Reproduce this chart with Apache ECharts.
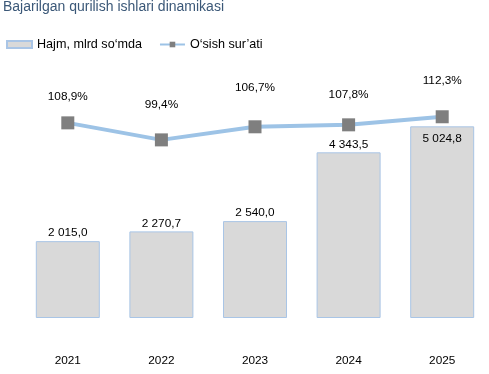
<!DOCTYPE html>
<html><head><meta charset="utf-8">
<script src="https://cdn.jsdelivr.net/npm/echarts@6/dist/echarts.min.js"></script>
<style>html,body{margin:0;padding:0;background:#fff}#c{width:489px;height:374px}</style>
</head><body><div id="c"></div>
<script>
const years = ['2021', '2022', '2023', '2024', '2025'];
const volume = [2015.0, 2270.7, 2540.0, 4343.5, 5024.8];
const growth = [108.9, 99.4, 106.7, 107.8, 112.3];
const volumeName = 'Hajm, mlrd so\u2018mda';
const growthName = 'O\u2018sish sur\u2019ati';

// label styling (not data)
const growthLabelGap = [14, 23, 27, 18, 24];
const volumeLabelInside = [false, false, false, false, true];

const fmtVol = v => {
  const parts = v.toFixed(1).split('.');
  const int = parts[0].replace(/\B(?=(\d{3})+(?!\d))/g, ' ');
  return int + ',' + parts[1];
};
const fmtPct = v => v.toFixed(1).replace('.', ',') + '%';

const font = 'Liberation Sans, Arial, sans-serif';
const lblSize = 11.8;
const chart = echarts.init(document.getElementById('c'), null, {renderer: 'canvas'});
chart.setOption({
  animation: false,
  title: {
    text: 'Bajarilgan qurilish ishlari dinamikasi',
    left: 3, top: 0, padding: 0,
    textStyle: {fontFamily: font, fontSize: 14, fontWeight: 'normal', color: '#3b5878'}
  },
  legend: {
    left: 6, top: 38, padding: 0,
    itemWidth: 25, itemHeight: 7, itemGap: 17,
    textStyle: {fontFamily: font, fontSize: 12.6, color: '#000'},
    data: [
      {name: volumeName, icon: 'rect'},
      {name: growthName}
    ]
  },
  grid: {left: 21, width: 469, top: 51, bottom: 56},
  xAxis: {
    type: 'category', data: years,
    axisLine: {show: false}, axisTick: {show: false},
    axisLabel: {margin: 37, fontFamily: font, fontSize: lblSize, color: '#000'}
  },
  yAxis: [
    {type: 'value', min: 0, max: 7000, show: false, splitLine: {show: false}},
    {type: 'value', min: 0, max: 149, show: false, splitLine: {show: false}}
  ],
  series: [
    {
      name: volumeName, type: 'bar', barWidth: 64,
      itemStyle: {color: '#d9d9d9', borderColor: '#a9c5e6', borderWidth: 1},
      data: volume.map((v, i) => ({
        value: v,
        label: volumeLabelInside[i] ? {position: 'insideTop', distance: 6} : {position: 'top', distance: 2}
      })),
      label: {show: true, formatter: p => fmtVol(p.value), fontFamily: font, fontSize: lblSize, color: '#000'}
    },
    {
      name: growthName, type: 'line', yAxisIndex: 1,
      symbol: 'rect', symbolSize: 13,
      lineStyle: {color: '#9dc3e6', width: 4},
      itemStyle: {color: '#7f7f7f', borderColor: '#7f7f7f', borderWidth: 0},
      data: growth.map((v, i) => ({value: v, label: {distance: growthLabelGap[i]}})),
      label: {show: true, position: 'top', formatter: p => fmtPct(p.value), fontFamily: font, fontSize: lblSize, color: '#000'},
      z: 3
    }
  ]
});
</script></body></html>
